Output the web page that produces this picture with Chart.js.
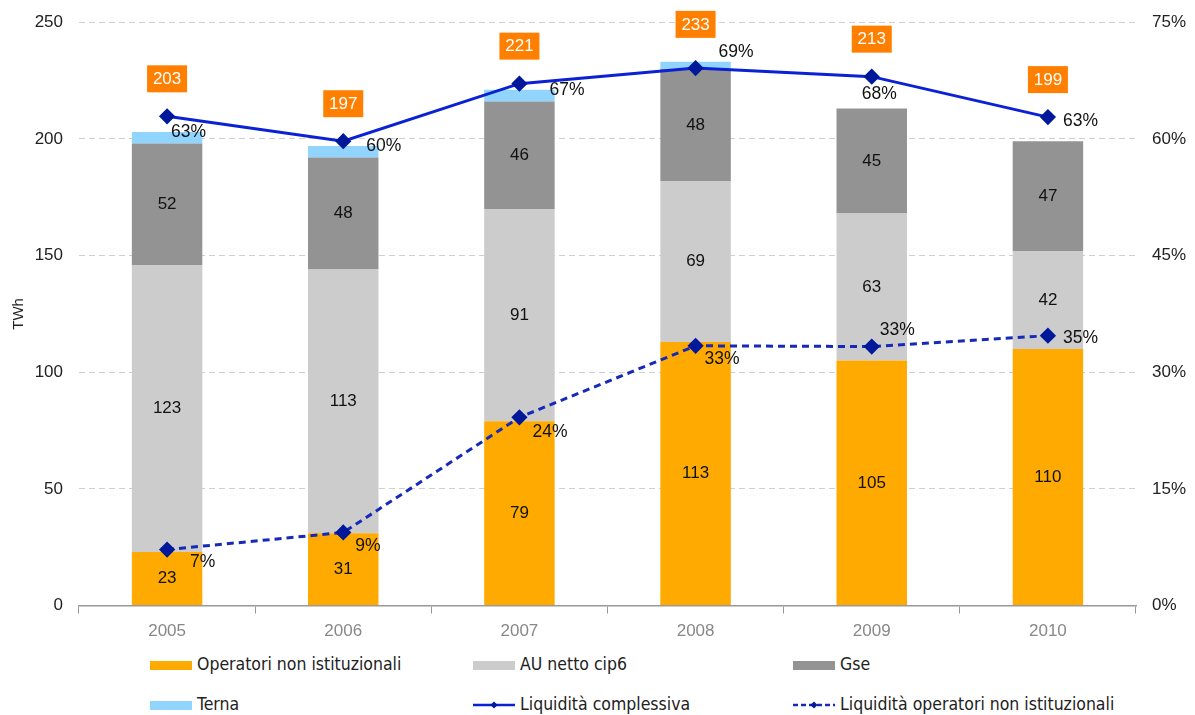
<!DOCTYPE html>
<html>
<head>
<meta charset="utf-8">
<script src="https://cdn.jsdelivr.net/npm/chart.js@4.4.1/dist/chart.umd.min.js"></script>
<style>
  body { margin: 0; background: #fff; }
  #wrap { position: relative; width: 1195px; height: 715px; overflow: hidden; }
  #canvasBox { position: absolute; left: 0; top: -4px; width: 1195px; height: 654px; }
  .leg { position: absolute; font-family: "Liberation Sans Narrow", "DejaVu Sans Condensed", sans-serif; font-size: 17.5px; color: #222; white-space: nowrap; line-height: 20px; }
  .leg .sw { display: inline-block; vertical-align: middle; margin-right: 5px; }
</style>
</head>
<body>
<div id="wrap">
  <div id="canvasBox"><canvas id="grafico"></canvas></div>
  <div id="legenda"></div>
</div>
<script>
const anni = ["2005", "2006", "2007", "2008", "2009", "2010"];
const operatori = [23, 31, 79, 113, 105, 110];
const auNetto = [123, 113, 91, 69, 63, 42];
const gse = [52, 48, 46, 48, 45, 47];
const terna = [5, 5, 5, 3, 0, 0];
const totali = [203, 197, 221, 233, 213, 199];
const liqComplessiva = [62.9, 59.7, 67.1, 69.1, 68.0, 62.8];
const liqOperatori = [7.2, 9.4, 24.2, 33.4, 33.3, 34.7];
const ticksSinistra = [0, 50, 100, 150, 200, 250];
const ticksDestra = [0, 15, 30, 45, 60, 75];

const COLORI = {
  operatori: '#FFAA00',
  au: '#CCCCCC',
  gse: '#939393',
  terna: '#91D5FF',
  linea: '#0A22D4',
  tratteggio: '#1729B8',
  punti: '#00189A',
  box: '#FF7F00'
};

const FONT = '"Liberation Sans", Arial, sans-serif';

// spostamento delle etichette percentuali rispetto al punto (bordo sinistro del testo, centro verticale)
const offComplessiva = [[4, 16], [23, 5], [30, 7], [23, -16], [-10, 18], [15, 4]];
const offOperatori = [[23, 13], [12, 14], [13, 15], [9, 13], [8, -16], [15, 2]];

const etichette = {
  id: 'etichette',
  afterDatasetsDraw(chart) {
    const ctx = chart.ctx;
    const y = chart.scales.y;
    const y1 = chart.scales.y1;
    ctx.save();
    // valori dentro le barre
    [0, 1, 2].forEach((i) => {
      const meta = chart.getDatasetMeta(i);
      meta.data.forEach((bar, j) => {
        const v = chart.data.datasets[i].data[j];
        if (!v) return;
        ctx.font = '17px ' + FONT;
        ctx.fillStyle = '#111';
        ctx.textAlign = 'center';
        ctx.textBaseline = 'middle';
        ctx.fillText(String(v), bar.x, (bar.y + bar.base) / 2);
      });
    });
    // percentuali delle linee
    [[4, offComplessiva], [5, offOperatori]].forEach(([i, off]) => {
      const meta = chart.getDatasetMeta(i);
      meta.data.forEach((pt, j) => {
        const v = chart.data.datasets[i].data[j];
        ctx.font = '17.5px ' + FONT;
        ctx.fillStyle = '#111';
        ctx.textAlign = 'left';
        ctx.textBaseline = 'middle';
        ctx.fillText(Math.round(v) + '%', pt.x + off[j][0], pt.y + off[j][1]);
      });
    });
    // totali nei riquadri arancioni
    const meta0 = chart.getDatasetMeta(0);
    meta0.data.forEach((bar, j) => {
      const top = Math.min(y.getPixelForValue(totali[j]), y1.getPixelForValue(liqComplessiva[j]));
      const cy = top - 38;
      ctx.fillStyle = COLORI.box;
      ctx.fillRect(bar.x - 20, cy - 13, 40, 27);
      ctx.font = '17px ' + FONT;
      ctx.fillStyle = '#fff';
      ctx.textAlign = 'center';
      ctx.textBaseline = 'middle';
      ctx.fillText(String(totali[j]), bar.x, cy + 1);
    });
    ctx.restore();
  }
};

new Chart(document.getElementById('grafico'), {
  data: {
    labels: anni,
    datasets: [
      { type: 'bar', label: 'Operatori non istituzionali', data: operatori, backgroundColor: COLORI.operatori, stack: 's', yAxisID: 'y', order: 2 },
      { type: 'bar', label: 'AU netto cip6', data: auNetto, backgroundColor: COLORI.au, stack: 's', yAxisID: 'y', order: 2 },
      { type: 'bar', label: 'Gse', data: gse, backgroundColor: COLORI.gse, stack: 's', yAxisID: 'y', order: 2 },
      { type: 'bar', label: 'Terna', data: terna, backgroundColor: COLORI.terna, stack: 's', yAxisID: 'y', order: 2 },
      { type: 'line', label: 'Liquidità complessiva', data: liqComplessiva, yAxisID: 'y1', borderColor: COLORI.linea, borderWidth: 3,
        pointStyle: 'rectRot', pointRadius: 6, pointBackgroundColor: COLORI.punti, pointBorderColor: COLORI.punti, tension: 0, order: 0 },
      { type: 'line', label: 'Liquidità operatori non istituzionali', data: liqOperatori, yAxisID: 'y1', borderColor: COLORI.tratteggio, borderWidth: 3,
        borderDash: [7, 5], pointStyle: 'rectRot', pointRadius: 6, pointBackgroundColor: COLORI.punti, pointBorderColor: COLORI.punti, tension: 0, order: 0 }
    ]
  },
  options: {
    responsive: true,
    maintainAspectRatio: false,
    animation: false,
    layout: { padding: { top: 8, right: 0, left: 0, bottom: 0 } },
    plugins: { legend: { display: false }, tooltip: { enabled: false } },
    datasets: { bar: { barPercentage: 0.4, categoryPercentage: 1, borderWidth: 0 } },
    scales: {
      x: {
        stacked: true,
        grid: { drawOnChartArea: false, offset: true, tickLength: 8, color: '#999' },
        border: { color: '#999', width: 1.5 },
        ticks: { color: '#888', font: { size: 17, family: FONT }, padding: 8 }
      },
      y: {
        stacked: true,
        position: 'left',
        min: 0, max: 250,
        afterBuildTicks: (s) => { s.ticks = ticksSinistra.map((v) => ({ value: v })); },
        afterFit: (s) => { s.width = 79; },
        grid: { color: '#cfcfcf', drawTicks: false },
        border: { display: false, dash: [6, 4] },
        ticks: { color: '#222', font: { size: 17, family: FONT }, padding: 16 },
        title: { display: true, text: 'TWh', color: '#222', font: { size: 15, family: FONT }, padding: { top: 10, bottom: 0 } }
      },
      y1: {
        position: 'right',
        min: 0, max: 75,
        afterBuildTicks: (s) => { s.ticks = ticksDestra.map((v) => ({ value: v })); },
        afterFit: (s) => { s.width = 59; },
        grid: { drawOnChartArea: false, drawTicks: false },
        border: { display: false },
        ticks: { color: '#222', font: { size: 17, family: FONT }, padding: 16, callback: (v) => v + '%' }
      }
    }
  },
  plugins: [etichette]
});

// legenda HTML su due righe e tre colonne
const vociLegenda = [
  { testo: 'Operatori non istituzionali', tipo: 'box', colore: COLORI.operatori, x: 150, y: 654 },
  { testo: 'AU netto cip6', tipo: 'box', colore: COLORI.au, x: 473, y: 654 },
  { testo: 'Gse', tipo: 'box', colore: COLORI.gse, x: 793, y: 654 },
  { testo: 'Terna', tipo: 'box', colore: COLORI.terna, x: 150, y: 694 },
  { testo: 'Liquidità complessiva', tipo: 'linea', colore: COLORI.linea, x: 473, y: 694 },
  { testo: 'Liquidità operatori non istituzionali', tipo: 'tratt', colore: COLORI.tratteggio, x: 793, y: 694 }
];
let html = '';
vociLegenda.forEach((v) => {
  let sw;
  if (v.tipo === 'box') {
    sw = `<span class="sw" style="width:42px;height:9px;background:${v.colore}"></span>`;
  } else {
    const dash = v.tipo === 'tratt' ? 'stroke-dasharray="5,3"' : '';
    sw = `<svg class="sw" width="42" height="12"><line x1="0" y1="6" x2="42" y2="6" stroke="${v.colore}" stroke-width="2.5" ${dash}/><rect x="18.5" y="3.5" width="5" height="5" transform="rotate(45 21 6)" fill="${COLORI.punti}"/></svg>`;
  }
  html += `<div class="leg" style="left:${v.x}px;top:${v.y}px">${sw}${v.testo}</div>`;
});
document.getElementById('legenda').innerHTML = html;
</script>
</body>
</html>
